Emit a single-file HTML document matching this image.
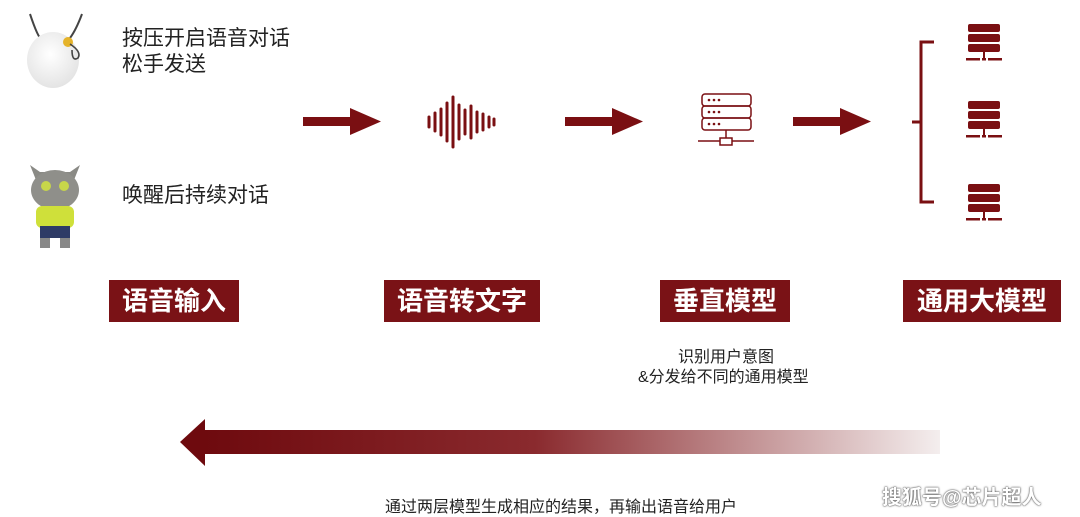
<!DOCTYPE html>
<html><head><meta charset="utf-8"><style>
body{margin:0;width:1080px;height:517px;background:#fff;position:relative;overflow:hidden;font-family:"Liberation Sans","Noto Sans CJK SC",sans-serif;}
.t{position:absolute;color:#222;font-size:21px;line-height:26px;}
.box{position:absolute;background:#7a1216;color:#fff;font-size:26px;font-weight:bold;text-align:center;height:42px;line-height:42px;top:280px;}
.s{position:absolute;font-size:16px;color:#222;white-space:nowrap;}
</style></head><body>
<svg width="1080" height="517" style="position:absolute;left:0;top:0">
<defs><linearGradient id="g" x1="0" x2="1"><stop offset="0" stop-color="#6e0a0e"/><stop offset="0.45" stop-color="#8a2a2e"/><stop offset="1" stop-color="#f4eeee"/></linearGradient>
<radialGradient id="ball" cx="0.45" cy="0.4" r="0.6"><stop offset="0" stop-color="#fff"/><stop offset="1" stop-color="#e4e4e4"/></radialGradient></defs>
<path d="M30 14 Q38 38 42 40 M82 14 Q76 30 70 38" stroke="#444" stroke-width="2" fill="none"/>
<ellipse cx="53" cy="60" rx="26" ry="28" fill="url(#ball)"/>
<circle cx="68" cy="42" r="5" fill="#e5b32a"/>
<path d="M70 44 Q82 52 78 58 Q72 62 72 50" stroke="#444" stroke-width="1.6" fill="none"/>
<path d="M30 165 L36 180 L74 180 L80 165 L70 172 L40 172Z" fill="#8a8a85"/>
<ellipse cx="55" cy="190" rx="24" ry="20" fill="#8f8f8a"/>
<circle cx="46" cy="186" r="5" fill="#c7d64a"/><circle cx="64" cy="186" r="5" fill="#c7d64a"/>
<rect x="36" y="206" width="38" height="22" rx="6" fill="#cfe03a"/>
<rect x="40" y="226" width="30" height="12" fill="#2e3b66"/>
<rect x="40" y="238" width="10" height="10" fill="#888"/><rect x="60" y="238" width="10" height="10" fill="#888"/>
<g fill="#7a0f12">
<rect x="303" y="117" width="50" height="9"/><polygon points="350,108 381,121.5 350,135"/>
<rect x="565" y="117" width="50" height="9"/><polygon points="612,108 643,121.5 612,135"/>
<rect x="793" y="117" width="50" height="9"/><polygon points="840,108 871,121.5 840,135"/>
</g>
<g stroke="#7a0f12" stroke-width="3" stroke-linecap="round">
<line x1="429" y1="117" x2="429" y2="127"/><line x1="435" y1="113" x2="435" y2="131"/><line x1="441" y1="109" x2="441" y2="135"/><line x1="447" y1="103" x2="447" y2="141"/><line x1="453" y1="97" x2="453" y2="147"/><line x1="459" y1="105" x2="459" y2="139"/><line x1="465" y1="110" x2="465" y2="134"/><line x1="471" y1="106" x2="471" y2="138"/><line x1="477" y1="112" x2="477" y2="132"/><line x1="483" y1="114" x2="483" y2="130"/><line x1="489" y1="117" x2="489" y2="127"/><line x1="494" y1="119" x2="494" y2="125"/>
</g>
<g stroke="#7a0f12" stroke-width="1.5" fill="none">
<rect x="702" y="94" width="49" height="12" rx="3"/><rect x="702" y="106" width="49" height="12" rx="3"/><rect x="702" y="118" width="49" height="12" rx="3"/>
<line x1="726" y1="130" x2="726" y2="138"/><rect x="720" y="138" width="12" height="7"/>
<line x1="698" y1="141" x2="720" y2="141"/><line x1="732" y1="141" x2="754" y2="141"/>
</g>
<g fill="#7a0f12"><circle cx="709" cy="100" r="1.3"/><circle cx="714" cy="100" r="1.3"/><circle cx="719" cy="100" r="1.3"/><circle cx="709" cy="112" r="1.3"/><circle cx="714" cy="112" r="1.3"/><circle cx="719" cy="112" r="1.3"/><circle cx="709" cy="124" r="1.3"/><circle cx="714" cy="124" r="1.3"/><circle cx="719" cy="124" r="1.3"/></g>
<path d="M934 42 L921 42 L921 202 L934 202 M912 122 L921 122" stroke="#7a0f12" stroke-width="3" fill="none"/>
<g id="fs" fill="#7a0f12">
<rect x="968" y="24" width="32" height="8" rx="2"/><rect x="968" y="34" width="32" height="8" rx="2"/><rect x="968" y="44" width="32" height="8" rx="2"/>
<rect x="983" y="52" width="2" height="6"/><rect x="966" y="58" width="14" height="2.5"/><rect x="982" y="58" width="4" height="2.5"/><rect x="988" y="58" width="14" height="2.5"/>
</g>
<use href="#fs" y="77"/><use href="#fs" y="160"/>
<rect x="203" y="430" width="737" height="24" fill="url(#g)"/>
<polygon points="180,442 205,419 205,466" fill="#6e0a0e"/>
</svg>
<div class="t" style="left:122px;top:26px">按压开启语音对话<br>松手发送</div>
<div class="t" style="left:122px;top:183px">唤醒后持续对话</div>
<div class="box" style="left:109px;width:130px">语音输入</div>
<div class="box" style="left:384px;width:156px">语音转文字</div>
<div class="box" style="left:660px;width:130px">垂直模型</div>
<div class="box" style="left:903px;width:158px">通用大模型</div>
<div class="s" style="left:678px;top:343px">识别用户意图</div>
<div class="s" style="left:638px;top:363px">&amp;分发给不同的通用模型</div>
<div class="s" style="left:385px;top:493px">通过两层模型生成相应的结果，再输出语音给用户</div>
<div style="position:absolute;left:882px;top:481px;font-size:20px;font-weight:bold;color:#fff;text-shadow:0 0 2px #555,0 0 1px #333">搜狐号@芯片超人</div>
</body></html>
